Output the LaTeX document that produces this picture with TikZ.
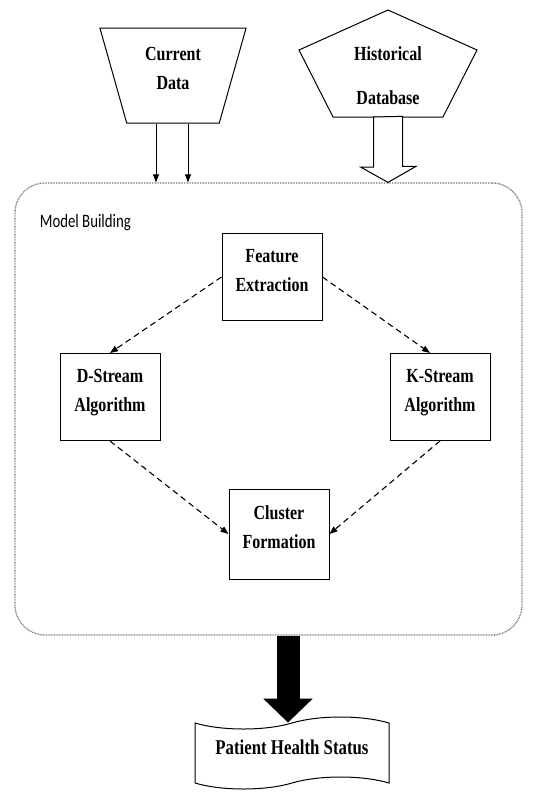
\documentclass[tikz,border=0pt]{standalone}
\usepackage{fontspec}
\setmainfont{Liberation Serif}
\newfontfamily\boxfont[FakeStretch=0.8]{Liberation Serif}
\newfontfamily\tagfont[FakeStretch=0.78]{Carlito}
\usetikzlibrary{positioning,arrows.meta,shapes.geometric,shapes.symbols}
\newcommand{\padlow}[1]{\rule[-#1]{0pt}{#1}}

\begin{document}
\begin{tikzpicture}[
    x = 1pt,
    y = -1pt,
    > = {Triangle[length=8pt, width=6pt]},
    line width = 1pt,
    lbl/.style={font=\boxfont\bfseries\fontsize{20}{29}\selectfont, align=center},
    block/.style={lbl, rectangle, draw, minimum width=100pt, minimum height=87pt},
    flow/.style={->, dash pattern=on 6pt off 4pt, line width=1.1pt}
]
    \useasboundingbox (0,0) rectangle (533,796);

    % inputs
    \node[lbl, trapezium, draw, trapezium stretches=true, shape border rotate=180,
          trapezium angle=74, minimum width=147pt, minimum height=95pt]
        (cur) at (173,75.5) {Current\\Data\padlow{14pt}};
    \node[lbl] (hist) at (388,76) {Historical\\[15pt]Database};
    \draw (hist.center) ++(0,-66) -- ++(-89,40) -- ++(34,67) -- ++(110,0) -- ++(34,-67) -- cycle;
    \path (hist.center) ++(0,41) coordinate (hb);

    % model building
    \node[draw=black!55, dash pattern=on 0.8pt off 0.8pt, line width=1.3pt, rounded corners=30pt,
          minimum width=507pt, minimum height=452pt] (model) at (268.5,409) {};
    \node[font=\tagfont\fontsize{19}{22}\selectfont, anchor=west] (tag) at (36,223) {Model Building};

    \path (cur.south) ++(-17,0) coordinate (c1) ++(32,0) coordinate (c2);
    \draw[->] (c1) -- (c1 |- model.north);
    \draw[->] (c2) -- (c2 |- model.north);
    \draw[fill=white] (hb) ++(-14.5,0) -- ++(0,50) -- ++(-13,0) -- (hb |- model.north)
        -- ++(28,-16) -- ++(-13.5,0) -- ++(0,-50) -- cycle;

    \node[block] (fe) at (272,277) {Feature\\Extraction\padlow{14pt}};
    \node[block] (ds) at (110,397) {D-Stream\\Algorithm\padlow{14pt}};
    \node[block] (ks) at (440,397) {K-Stream\\Algorithm\padlow{14pt}};
    \node[block, minimum height=90pt] (cf) at (279,534) {Cluster\\Formation\padlow{14pt}};

    \draw[flow] (fe.west) -- (ds.north);
    \draw[flow] (fe.east) -- ([xshift=-10pt]ks.north);
    \draw[flow] (ds.south) -- (cf.west);
    \draw[flow] (ks.south) -- (cf.east);

    % output
    \node[lbl, font=\boxfont\bfseries\fontsize{21}{29}\selectfont, tape, draw, tape bend height=12pt,
          minimum width=194pt, minimum height=72pt]
        (out) at (292,753) {Patient Health Status\padlow{12pt}};
    \draw[line width=23pt, -{Triangle[length=24pt, width=48pt]}]
        ([xshift=-4pt]out.north |- model.south) -- ([xshift=-4pt]out.north);
\end{tikzpicture}
\end{document}
